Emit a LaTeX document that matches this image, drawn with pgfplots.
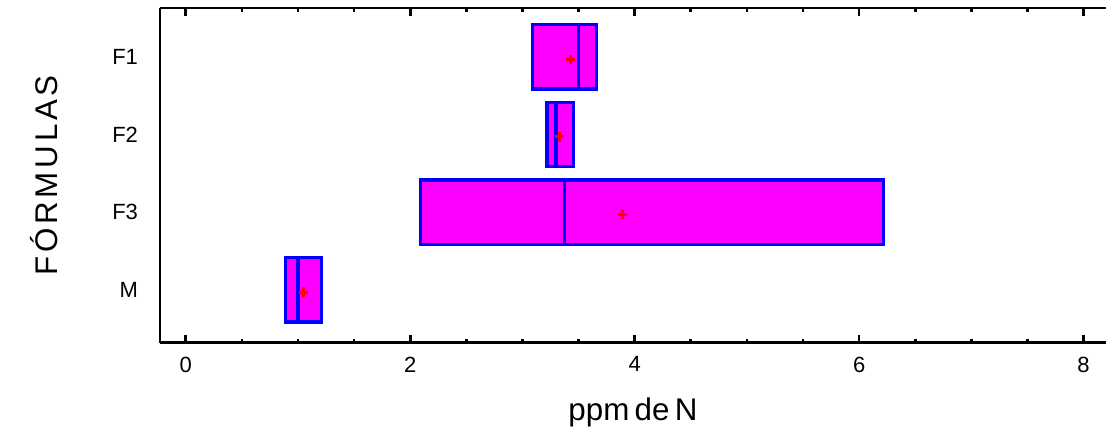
\documentclass[border=0pt]{standalone}
\usepackage{pgfplots}
\pgfplotsset{compat=1.18}
\usepgfplotslibrary{statistics}
\usepackage{fontspec}
\setmainfont{Liberation Sans}
\newfontfamily\spacedfont[LetterSpace=12]{Liberation Sans}
\definecolor{boxFill}{RGB}{255,0,255}
\definecolor{boxEdge}{RGB}{0,0,255}
\begin{document}
\begin{tikzpicture}
\begin{axis}[
    scale only axis,
    width=709.5pt, height=251pt,
    xmin=-0.23, xmax=8.2,
    ymin=0.318, ymax=4.63,
    axis x line*=box,
    axis y line*=left,
    axis line style={line width=2.2pt},
    xtick={0,2,4,6,8},
    minor x tick num=3,
    tick align=inside,
    major tick length=6pt,
    minor tick length=3pt,
    tick style={line width=2pt, black},
    ytick={1,2,3,4},
    yticklabels={M,F3,F2,F1},
    ytick style={draw=none},
    tick label style={font=\fontsize{16.5}{19}\selectfont},
    /pgf/number format/assume math mode=true,
    xticklabel style={yshift=-7pt},
    yticklabel style={xshift=-13pt},
    xlabel={ppm\hspace{4pt}de\hspace{4pt}N},
    ylabel={\spacedfont FÓRMULAS},
    label style={font=\fontsize{23.5}{27}\selectfont},
    xlabel style={yshift=-12pt},
    ylabel style={yshift=34pt},
    boxplot/draw direction=x,
    boxplot/box extend=0.83,
    boxplot/whisker extend=0,
]
% F1
\addplot[boxplot prepared={draw position=4, lower whisker=3.09, lower quartile=3.09,
    median=3.50, upper quartile=3.66, upper whisker=3.66},
    fill=boxFill, draw=boxEdge, line width=2.5pt] coordinates {};
% F2
\addplot[boxplot prepared={draw position=3, lower whisker=3.22, lower quartile=3.22,
    median=3.30, upper quartile=3.455, upper whisker=3.455},
    fill=boxFill, draw=boxEdge, line width=2.5pt] coordinates {};
% F3
\addplot[boxplot prepared={draw position=2, lower whisker=2.09, lower quartile=2.09,
    median=3.375, upper quartile=6.22, upper whisker=6.22},
    fill=boxFill, draw=boxEdge, line width=2.5pt] coordinates {};
% M
\addplot[boxplot prepared={draw position=1, lower whisker=0.89, lower quartile=0.89,
    median=1.00, upper quartile=1.21, upper whisker=1.21},
    fill=boxFill, draw=boxEdge, line width=2.5pt] coordinates {};
% means
\addplot[only marks, mark=+, mark size=3.5pt, red, line width=2.2pt]
    coordinates {(3.43,3.97) (3.33,2.97) (3.89,1.97) (1.05,0.97)};
\end{axis}
\pgfresetboundingbox
\path (current axis.south west) ++(-120pt,-66.75pt) coordinate (bl);
\path (current axis.north east) ++(0pt,6pt) coordinate (tr);
\path[use as bounding box] (bl) rectangle (tr);
\end{tikzpicture}
\end{document}
